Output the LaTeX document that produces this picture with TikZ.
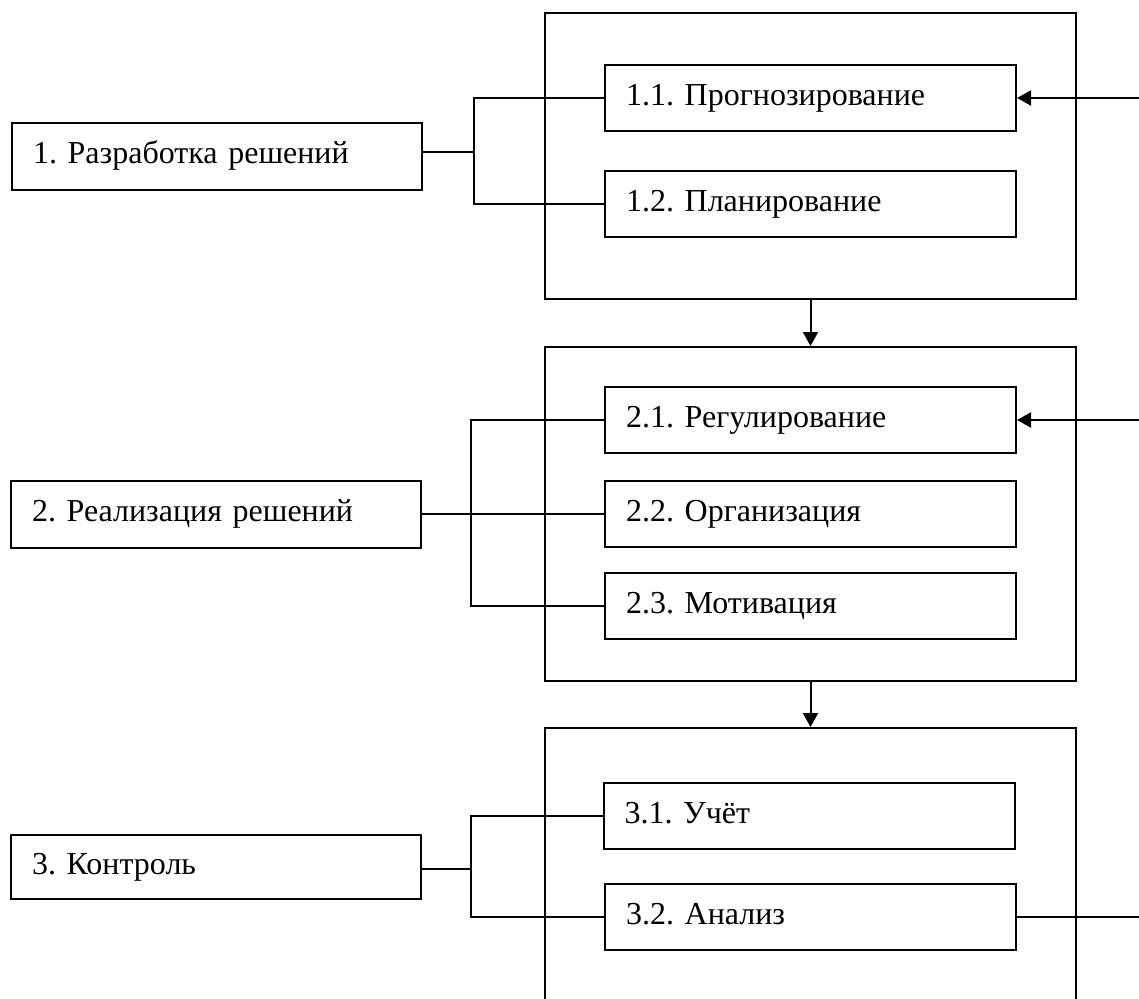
\documentclass[tikz,border=0pt]{standalone}
\usepackage{fontspec}
\setmainfont{Liberation Serif}
\usetikzlibrary{arrows.meta}
\begin{document}
\frenchspacing
\begin{tikzpicture}[x=1pt,y=-1pt,
  box/.style={draw, line width=2pt, rectangle, inner xsep=21pt, inner ysep=0pt, align=left,
    text height=23pt, text depth=8pt, font=\fontsize{32}{38}\selectfont},
  leftbox/.style={box, text width=368pt, minimum height=67pt},
  subbox/.style={box, text width=369pt, minimum height=66pt},
  bigbox/.style={draw, line width=2pt, minimum width=531pt, inner sep=0pt},
  link/.style={line width=2pt},
  arr/.style={link, -{Triangle[length=14pt,width=15pt]}}
]
\clip (0,0) rectangle (1139,998);
\fill[white] (0,0) rectangle (1139,998);

% big frames
\node[bigbox, minimum height=286pt] (B1) at (810.5,156) {};
\node[bigbox, minimum height=334pt] (B2) at (810.5,514) {};
\node[bigbox, minimum height=400pt] (B3) at (810.5,928) {};

% left boxes
\node[leftbox] (L1) at (217,156) {1. Разработка решений};
\node[leftbox] (L2) at (216,514) {2. Реализация решений};
\node[leftbox, minimum height=64pt] (L3) at (216,867) {3. Контроль};

% inner boxes
\node[subbox] (b11) at (810.5,98) {1.1. Прогнозирование};
\node[subbox] (b12) at (810.5,204) {1.2. Планирование};
\node[subbox] (b21) at (810.5,420) {2.1. Регулирование};
\node[subbox] (b22) at (810.5,514) {2.2. Организация};
\node[subbox] (b23) at (810.5,606) {2.3. Мотивация};
\node[subbox] (b31) at (809,816) {3.1. Учёт};
\node[subbox] (b32) at (810.5,917) {3.2. Анализ};

% brackets
\coordinate (j1) at (474,152);
\draw[link] (b11.west) -| (j1) |- (b12.west);
\draw[link] (L1.east |- j1) -- (j1);

\coordinate (j2) at (471,514);
\draw[link] (b21.west) -| (j2) |- (b23.west);
\draw[link] (L2.east) -- (b22.west);

\coordinate (j3) at (471,869);
\draw[link] (b31.west) -| (j3) |- (b32.west);
\draw[link] (L3.east |- j3) -- (j3);

% right side lines
\coordinate (r1) at (1141,98);
\coordinate (r2) at (1141,420);
\coordinate (r3) at (1141,917);
\draw[arr] (r1) -- (b11.east);
\draw[arr] (r2) -- (b21.east);
\draw[link] (b32.east) -- (r3);

% vertical arrows
\draw[arr] (B1.south) -- (B2.north);
\draw[arr] (B2.south) -- (B3.north);
\end{tikzpicture}
\end{document}
